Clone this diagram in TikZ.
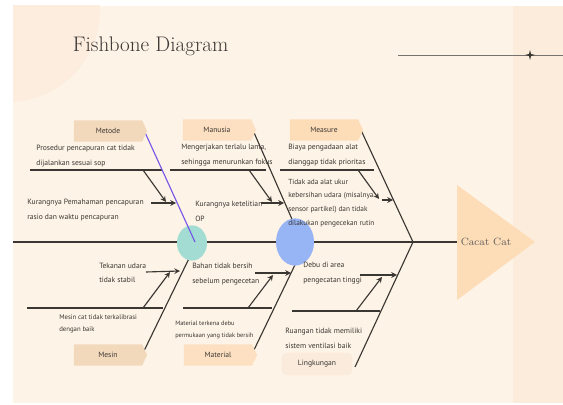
\documentclass[tikz,border=0pt]{standalone}
\usepackage{fontspec}
\usepackage{tikz}
\usetikzlibrary{shapes.symbols}
\newfontfamily\causefont{PT Sans}
\definecolor{cream}{HTML}{FDF3E6}
\definecolor{strip}{HTML}{FCECDC}
\definecolor{corner}{HTML}{FCEDDE}
\definecolor{ink}{HTML}{3A3632}
\definecolor{headpeach}{HTML}{FDDDB8}
\definecolor{tanbox}{HTML}{F3D9BC}
\definecolor{peachbox}{HTML}{FDE0C2}
\definecolor{palebox}{HTML}{FAEBDC}
\definecolor{tealdot}{HTML}{A2DCD3}
\definecolor{bluedot}{HTML}{97B4F5}
\definecolor{violet}{HTML}{7656E6}

\begin{document}
\begin{tikzpicture}[x=0.025cm, y=-0.025cm, >=stealth,
    bone/.style={draw=ink, line width=0.8pt},
    cause/.style={anchor=west, align=left, inner sep=0pt, text=ink,
      font=\causefont\fontsize{5.4}{10.5}\selectfont},
    catbox/.style={signal, signal to=east, signal pointer angle=130,
      inner sep=0pt, minimum width=1.83cm, minimum height=0.53cm,
      text=ink, font=\causefont\fontsize{5.4}{6}\selectfont}]
  \useasboundingbox (0,0) rectangle (563,405);
  \fill[white] (0,0) rectangle (563,405);
  \fill[cream] (13,6) rectangle (563,403);
  \begin{scope}
    \clip (13,6) rectangle (563,403);
    \fill[corner] (8,10) circle (2.3cm);
  \end{scope}
  \fill[strip] (513,6) rectangle (563,403);

  \node[anchor=west, text=ink, font=\fontsize{15}{18}\selectfont] (title) at (68,46) {Fishbone Diagram};
  \coordinate (ruleL) at (398,55);
  \coordinate (ruleR) at (563,55);
  \coordinate (star) at (530,55);
  \draw[ink!70, line width=0.4pt] (ruleL) -- (ruleR);
  \fill[ink] (star) ++(0,-5) -- ++(1,4) -- ++(4,1) -- ++(-4,1) -- ++(-1,4)
    -- ++(-1,-4) -- ++(-4,-1) -- ++(4,-1) -- cycle;

  % head
  \coordinate (tail) at (13,242);
  \coordinate (neck) at (457,242);
  \fill[headpeach] (457,185) -- (535,242) -- (457,300) -- cycle;
  \node[text=ink!80, font=\fontsize{7.5}{9}\selectfont] (effect) at (486,242) {Cacat Cat};
  \draw[bone, line width=1.1pt] (tail) -- (neck);

  % bones
  \coordinate (metT) at (143,128);
  \coordinate (metE) at (195,242);
  \coordinate (manT) at (252,128);
  \coordinate (manE) at (302,242);
  \coordinate (meaT) at (360,128);
  \coordinate (meaE) at (413,242);
  \coordinate (mesT) at (143,353);
  \coordinate (mesE) at (197,242);
  \coordinate (matT) at (253,352);
  \coordinate (matE) at (306,242);
  \coordinate (linT) at (355,367);
  \coordinate (linE) at (413,242);
  \draw[bone] (manT) -- (manE);
  \draw[bone] (meaT) -- (meaE);
  \draw[bone] (mesT) -- (mesE);
  \draw[bone] (matT) -- (matE);
  \draw[bone] (linT) -- (linE);

  % sub bones
  \draw[bone] (30,170) -- (162,170);
  \draw[bone, ->] (143,170) -- (166,202);
  \draw[bone, ->] (151,203) -- (176,203);
  \draw[bone] (170,170) -- (266,170);
  \draw[bone, ->] (249,170) -- (272,202);
  \draw[bone, ->] (261,203) -- (284,203);
  \draw[bone] (280,170) -- (374,170);
  \draw[bone, ->] (358,170) -- (379,199);
  \draw[bone, ->] (382,200) -- (393,200);
  \draw[bone] (27,308) -- (163,308);
  \draw[bone, ->] (143,308) -- (170,272);
  \draw[bone, ->] (146,272) -- (180,271);
  \draw[bone] (183,308) -- (272,308);
  \draw[bone, ->] (248,308) -- (273,275);
  \draw[bone, ->] (255,273) -- (291,273);
  \draw[bone] (292,311) -- (380,311);
  \draw[bone, ->] (356,311) -- (382,277);
  \draw[bone, ->] (360,275) -- (397,275);

  \fill[tealdot] (192,243) ellipse [x radius=0.375cm, y radius=0.44cm];
  \fill[bluedot] (295,242) ellipse [x radius=0.475cm, y radius=0.59cm];
  \draw[violet, line width=0.8pt] (metT) -- (metE);

  % categories
  \node[catbox, fill=tanbox] (metode) at (108,131) {Metode};
  \node[catbox, fill=peachbox] (manusia) at (217,130) {Manusia};
  \node[catbox, fill=headpeach] (measure) at (324,130) {Measure};
  \node[catbox, fill=tanbox] (mesin) at (108,355) {Mesin};
  \node[catbox, fill=peachbox] (material) at (218,355) {Material};
  \node[rounded corners=3pt, fill=palebox, inner sep=0pt, minimum width=1.75cm,
    minimum height=0.55cm, text=ink, font=\causefont\fontsize{5.4}{6}\selectfont]
    (lingkungan) at (317,364) {Lingkungan};

  % causes
  \node[cause] (metA) at (36,156) {Prosedur pencapuran cat tidak\\dijalankan sesuai sop};
  \node[cause] (metB) at (27,210) {Kurangnya Pemahaman pencapuran\\rasio dan waktu pencapuran};
  \node[cause] (manA) at (181,155) {Mengerjakan terlalu lama,\\sehingga menurunkan fokus};
  \node[cause] (manB) at (195,211) {Kurangnya ketelitian\\OP};
  \node[cause] (meaA) at (288,155) {Biaya pengadaan alat\\dianggap tidak prioritas};
  \node[cause, font=\causefont\fontsize{5.2}{9.7}\selectfont] (meaB) at (288,203)
    {Tidak ada alat ukur\\kebersihan udara (misalnya\\sensor partikel) dan tidak\\dilakukan pengecekan rutin};
  \node[cause] (mesA) at (99,273) {Tekanan udara\\tidak stabil};
  \node[cause, font=\causefont\fontsize{4.8}{8.8}\selectfont] (mesB) at (59,324) {Mesin cat tidak terkalibrasi\\dengan baik};
  \node[cause] (matA) at (192,274) {Bahan tidak bersih\\sebelum pengecetan};
  \node[cause, font=\causefont\fontsize{4.5}{9}\selectfont] (matB) at (175,330) {Material terkena debu\\permukaan yang tidak bersih};
  \node[cause] (linA) at (303,273) {Debu di area\\pengecatan tinggi};
  \node[cause] (linB) at (285,338) {Ruangan tidak memiliki\\sistem ventilasi baik};
\end{tikzpicture}
\end{document}
